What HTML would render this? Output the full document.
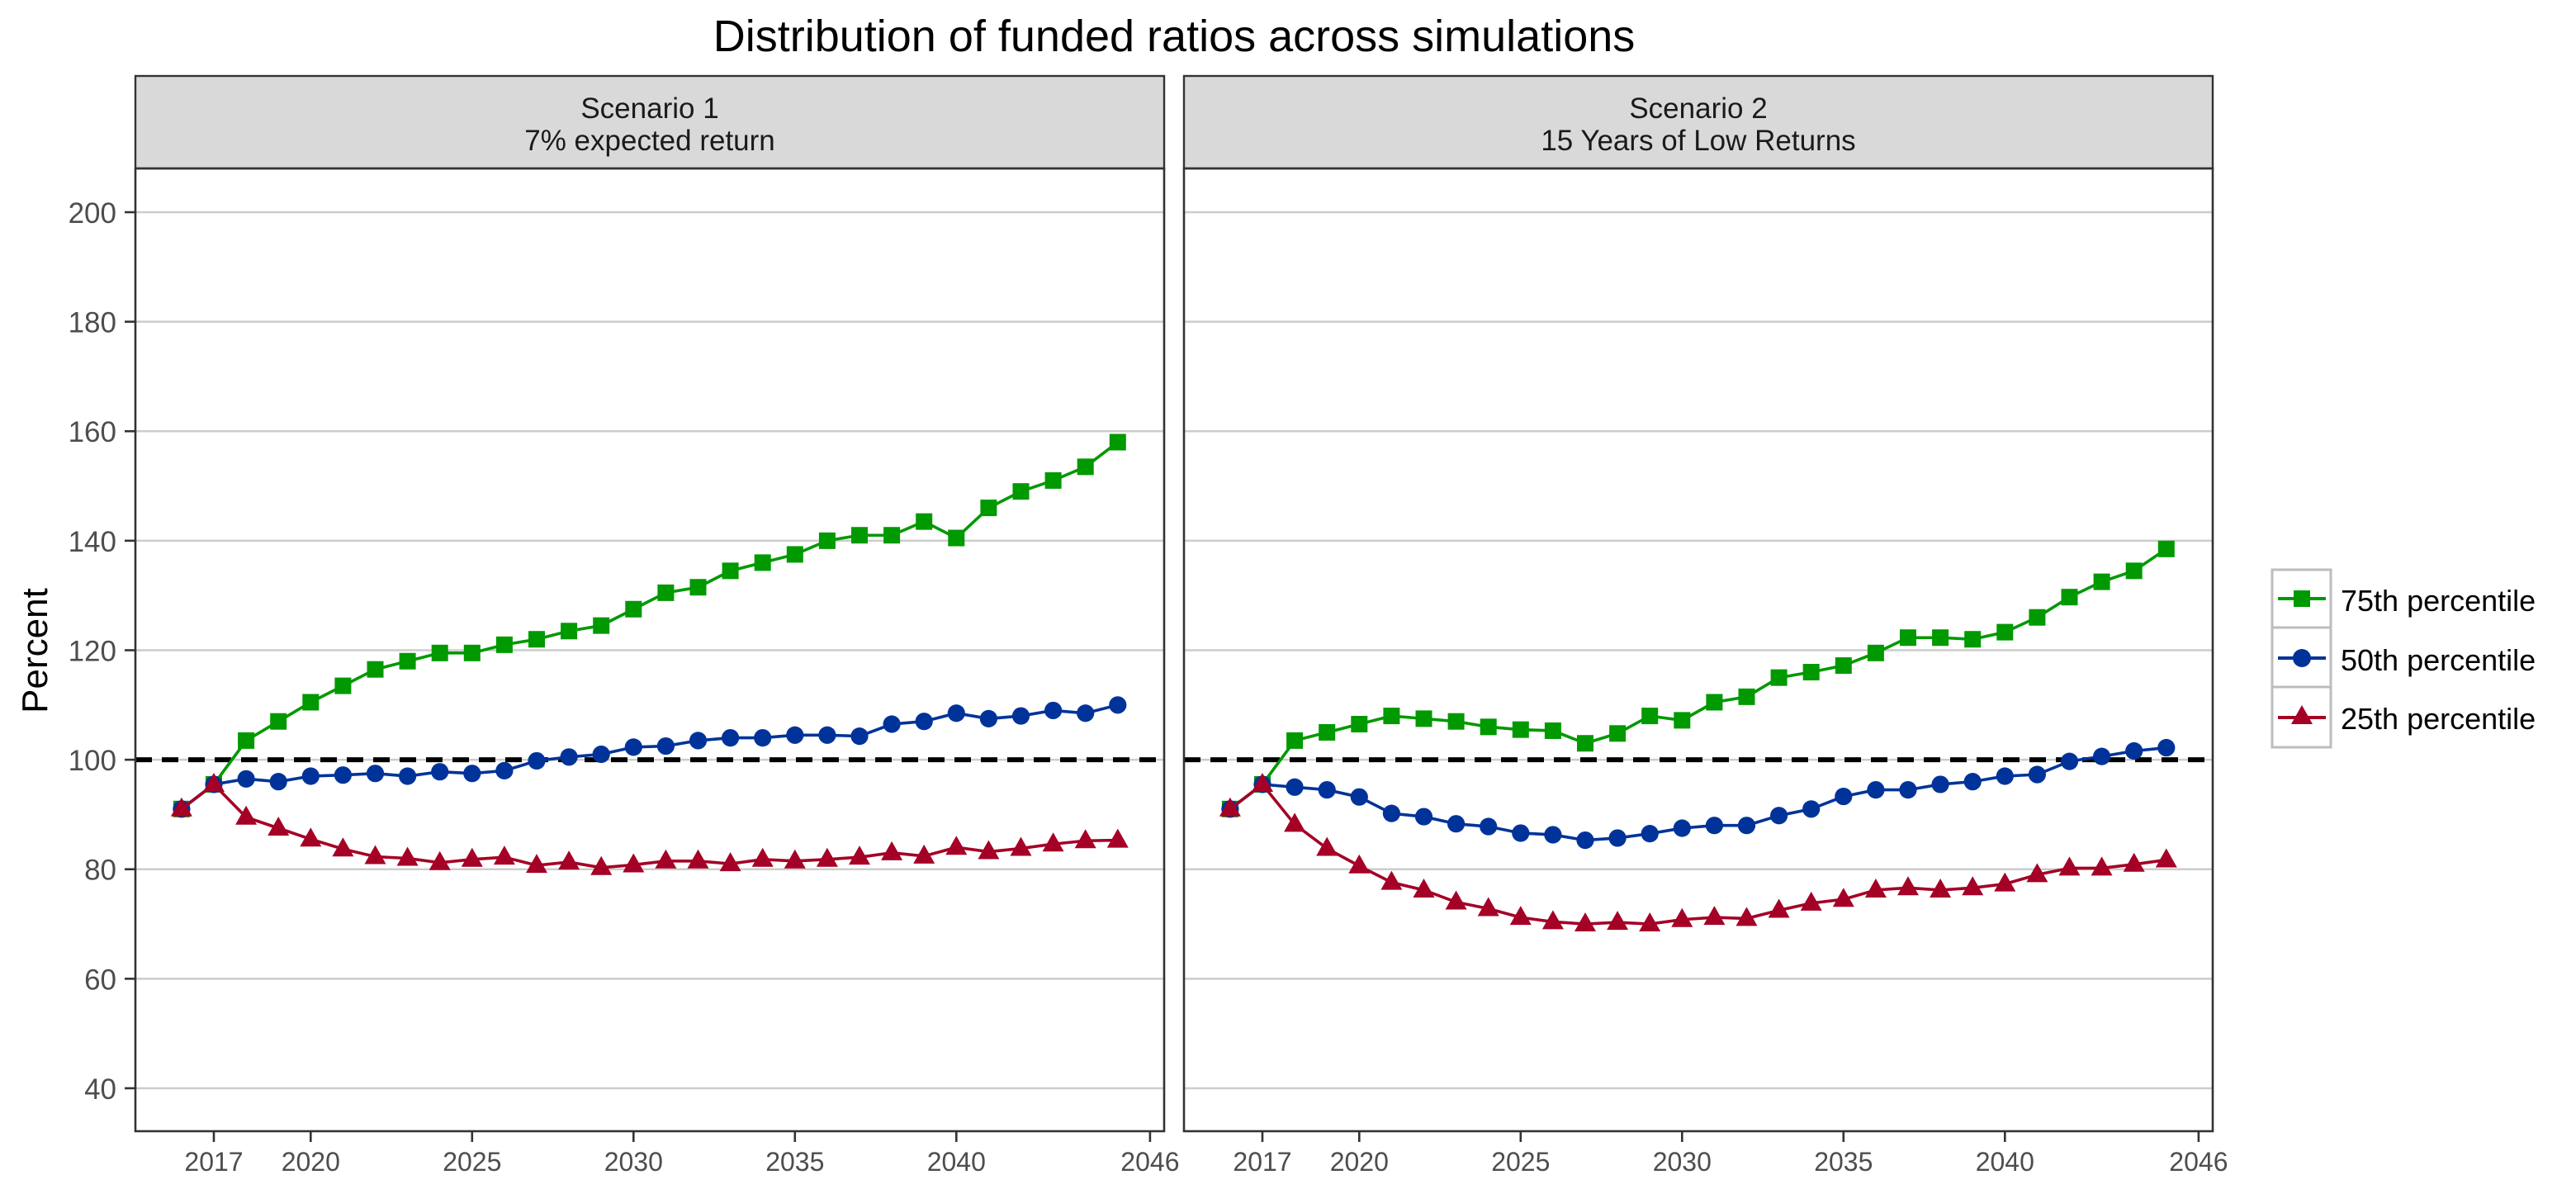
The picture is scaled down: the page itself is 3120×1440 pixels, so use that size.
<!DOCTYPE html>
<html><head><meta charset="utf-8"><style>
html,body{margin:0;padding:0;background:#fff}
svg{display:block;font-family:"Liberation Sans",Arial,sans-serif}
</style></head><body>
<svg id="chart" width="3120" height="1440" viewBox="0 0 1560 720">
<text x="711" y="31" font-size="27" text-anchor="middle">Distribution of funded ratios across simulations</text>
<text transform="translate(28.5,394) rotate(-90)" font-size="22" text-anchor="middle">Percent</text>
<g id="panels"></g>
<g>
<rect x="1376" y="345" width="35.5" height="107.5" fill="#fff" stroke="#bdbdbd" stroke-width="1.5"/>
<line x1="1376" y1="380" x2="1411.5" y2="380" stroke="#bdbdbd" stroke-width="1.5"/>
<line x1="1376" y1="416" x2="1411.5" y2="416" stroke="#bdbdbd" stroke-width="1.5"/>
<g><line x1="1379.5" y1="362.5" x2="1408.5" y2="362.5" stroke="#009900" stroke-width="2"/><rect x="1389" y="357.5" width="10" height="10" fill="#009900"/><text x="1417.5" y="370" font-size="18">75th percentile</text></g>
<g><line x1="1379.5" y1="398.5" x2="1408.5" y2="398.5" stroke="#003399" stroke-width="2"/><circle cx="1394" cy="398.5" r="5.5" fill="#003399"/><text x="1417.5" y="406" font-size="18">50th percentile</text></g>
<g><line x1="1379.5" y1="434.5" x2="1408.5" y2="434.5" stroke="#A50026" stroke-width="2"/><path d="M1394,427 L1400.5,438.5 L1387.5,438.5 Z" fill="#A50026"/><text x="1417.5" y="441.5" font-size="18">25th percentile</text></g>
</g>
</svg>
<script>
const years=[2016,2017,2018,2019,2020,2021,2022,2023,2024,2025,2026,2027,2028,2029,2030,2031,2032,2033,2034,2035,2036,2037,2038,2039,2040,2041,2042,2043,2044,2045];
const s1p75=[91,95.5,103.5,107,110.5,113.5,116.5,118,119.5,119.5,121,122,123.5,124.5,127.5,130.5,131.5,134.5,136,137.5,140,141,141,143.5,140.5,146,149,151,153.5,158];
const s1p50=[91,95.5,96.5,96,97,97.2,97.5,97,97.8,97.5,98,99.8,100.5,101,102.3,102.5,103.5,104,104,104.5,104.5,104.3,106.5,107,108.5,107.5,108,109,108.5,110];
const s1p25=[91,95.5,89.5,87.5,85.5,83.7,82.3,82,81.2,81.8,82.2,80.7,81.3,80.3,80.8,81.5,81.5,81,81.8,81.5,81.8,82.2,83,82.4,84,83.2,83.8,84.6,85.2,85.3];
const s2p75=[91,95.5,103.5,105,106.5,108,107.5,107,106,105.5,105.3,103,104.8,108,107.2,110.5,111.5,115,116,117.2,119.5,122.3,122.3,122,123.3,126,129.7,132.5,134.5,138.5];
const s2p50=[91,95.5,95,94.5,93.2,90.2,89.6,88.3,87.8,86.6,86.3,85.3,85.7,86.5,87.5,88,88,89.8,91,93.3,94.5,94.5,95.5,96,97,97.3,99.7,100.6,101.6,102.2];
const s2p25=[91,95.5,88.2,83.8,80.6,77.6,76.2,74,72.8,71.2,70.4,70,70.3,70,70.8,71.2,71,72.5,73.8,74.5,76.2,76.6,76.2,76.6,77.3,79,80.2,80.2,80.9,81.7];
const yTicks=[40,60,80,100,120,140,160,180,200];
const xTicks=[2017,2020,2025,2030,2035,2040,2046];
const refLine=100;
const stripTitles=[["Scenario 1","7% expected return"],["Scenario 2","15 Years of Low Returns"]];

const NS="http://www.w3.org/2000/svg";
const panelsG=document.getElementById('panels');
function el(t,a,p){const e=document.createElementNS(NS,t);for(const k in a)e.setAttribute(k,a[k]);(p||panelsG).appendChild(e);return e;}
const yScale=v=>128.5+(200-v)*3.3156;
const panels=[{x0:82,data:[s1p75,s1p50,s1p25]},{x0:717,data:[s2p75,s2p50,s2p25]}];
const cols=["#009900","#003399","#A50026"];
const W=623, topY=46, stripH=56, bottomY=685;
panels.forEach((p,pi)=>{
  const xScale=yr=>p.x0+47.5+(yr-2017)*19.55;
  const pg=el('g',{});
  
  
  yTicks.forEach(t=>{
    const l=el('line',{x1:p.x0,x2:p.x0+W,y1:yScale(t),y2:yScale(t),stroke:'#cccccc','stroke-width':1.3},pg);
    
    
    if(pi===0){
      const tx=el('text',{x:p.x0-11.5,y:yScale(t)+6.5,'font-size':17.5,fill:'#4d4d4d','text-anchor':'end'},pg);
      
      
      tx.textContent=t;
      el('line',{x1:p.x0-6.5,x2:p.x0,y1:yScale(t),y2:yScale(t),stroke:'#333','stroke-width':1.3},pg);
    }
  });
  const d=el('line',{x1:p.x0,x2:p.x0+W,y1:yScale(refLine),y2:yScale(refLine),stroke:'#000','stroke-width':3,'stroke-dasharray':'10,6'},pg);
  
  
  p.data.forEach((s,si)=>{
    const pts=s.map((v,i)=>xScale(years[i])+','+yScale(v)).join(' ');
    const pl=el('polyline',{points:pts,fill:'none',stroke:cols[si],'stroke-width':1.8},pg);
    
    
    s.forEach((v,i)=>{
      const cx=xScale(years[i]),cy=yScale(v);let m;
      if(si===0)m=el('rect',{x:cx-5,y:cy-5,width:10,height:10,fill:cols[0]},pg);
      else if(si===1)m=el('circle',{cx:cx,cy:cy,r:5.3,fill:cols[1]},pg);
      else m=el('path',{d:`M${cx},${cy-7} L${cx+6.5},${cy+4.5} L${cx-6.5},${cy+4.5} Z`,fill:cols[2]},pg);
      
      
    });
  });
  const st=el('rect',{x:p.x0,y:topY,width:W,height:stripH,fill:'#d9d9d9',stroke:'#333','stroke-width':1.2},pg);
  
  
  stripTitles[pi].forEach((s,k)=>{
    const t=el('text',{x:p.x0+W/2,y:71.5+k*19.5,'font-size':17.5,fill:'#1a1a1a','text-anchor':'middle'},pg);
    
    
    t.textContent=s;
  });
  const b=el('rect',{x:p.x0,y:topY+stripH,width:W,height:bottomY-topY-stripH,fill:'none',stroke:'#333','stroke-width':1.3},pg);
  
  
  xTicks.forEach(t=>{
    el('line',{x1:xScale(t),x2:xScale(t),y1:bottomY,y2:bottomY+6.5,stroke:'#333','stroke-width':1.3},pg);
    const tx=el('text',{x:xScale(t),y:709,'font-size':16,fill:'#4d4d4d','text-anchor':'middle'},pg);
    
    
    tx.textContent=t;
  });
});
</script>
</body></html>
